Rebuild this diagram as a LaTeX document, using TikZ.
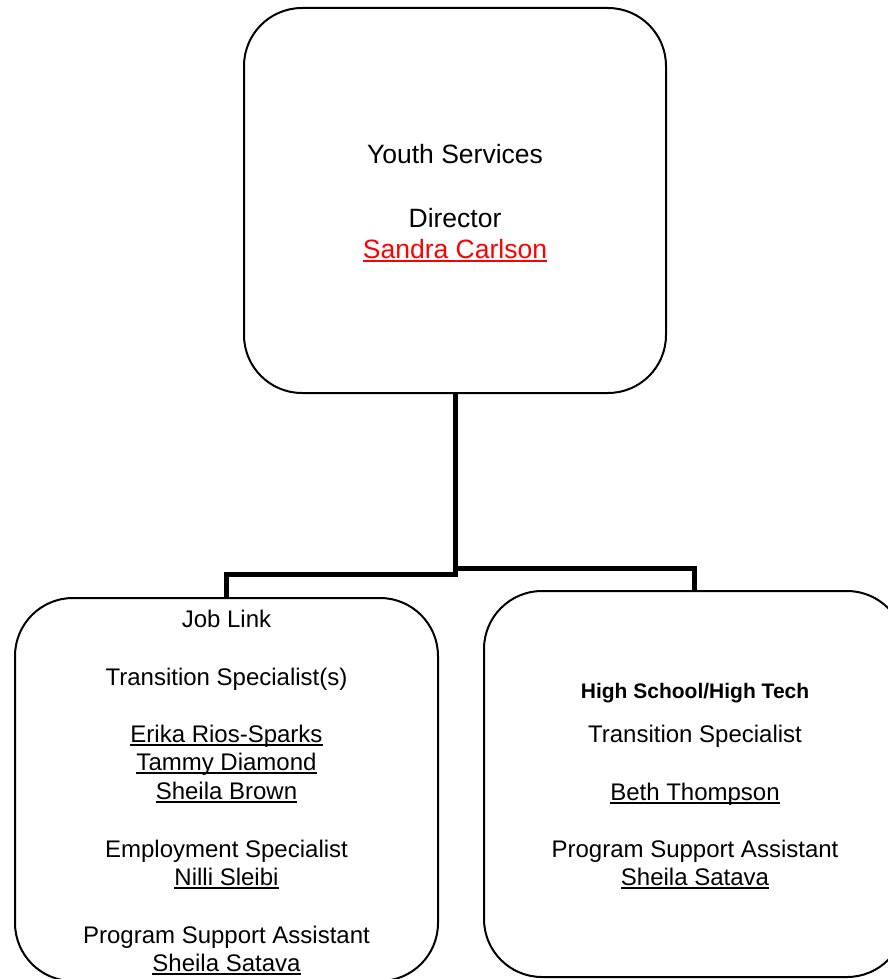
\documentclass[tikz,border=0pt]{standalone}
\usepackage{fontspec}
\setmainfont{Liberation Sans}
\newcommand\myul[1]{\begingroup\setbox0\hbox{#1}\rlap{\vrule width \wd0 height -1.8pt depth 3.5pt}\box0\endgroup}
\begin{document}
\begin{tikzpicture}[x=1pt,y=-1pt,
  box/.style={draw, line width=2pt, rounded corners=58pt, inner sep=0pt, outer sep=0pt},
  conn/.style={draw, line width=5pt, miter limit=10},
  txt/.style={anchor=base, inner sep=0pt, font=\fontsize{24}{28}\selectfont},
  toptxt/.style={anchor=base, inner sep=0pt, font=\fontsize{26.5}{31}\selectfont},
  boldtxt/.style={anchor=base, inner sep=0pt, font=\fontsize{21}{25}\selectfont\bfseries}]
\useasboundingbox (0,0) rectangle (888,979);
\clip (0,0) rectangle (888,979);
% boxes
\node[box, minimum width=422pt, minimum height=385pt] (top) at (455,200.5) {};
\node[box, minimum width=423pt, minimum height=383pt] (left) at (226.5,789.5) {};
\node[box, minimum width=421pt, minimum height=386pt] (right) at (694.5,784) {};
% connectors
\draw[conn] (top.south) -- (top.south |- 0,574.5) -| (left.north);
\draw[conn] (top.south) -- (top.south |- 0,568.5) -| (right.north);
% top box text
\node[toptxt] (t1) at (455,163) {Youth Services};
\node[toptxt] (t2) at (455,227) {Director};
\node[toptxt, text=red] (t3) at (455,258) {\myul{Sandra Carlson}};
% left box text
\node[txt] (l1) at (226.5,627) {Job Link};
\node[txt] (l2) at (226.5,685) {Transition Specialist(s)};
\node[txt] (l3) at (226.5,742) {\myul{Erika Rios-Sparks}};
\node[txt] (l4) at (226.5,770) {\myul{Tammy Diamond}};
\node[txt] (l5) at (226.5,799) {\myul{Sheila Brown}};
\node[txt] (l6) at (226.5,857) {Employment Specialist};
\node[txt] (l7) at (226.5,885) {\myul{Nilli Sleibi}};
\node[txt] (l8) at (226.5,943) {Program Support Assistant};
\node[txt] (l9) at (226.5,971) {\myul{Sheila Satava}};
% right box text
\node[boldtxt] (r1) at (695,698) {High School/High Tech};
\node[txt] (r2) at (695,742) {Transition Specialist};
\node[txt] (r3) at (695,800) {\myul{Beth Thompson}};
\node[txt] (r4) at (695,857) {Program Support Assistant};
\node[txt] (r5) at (695,885) {\myul{Sheila Satava}};
\end{tikzpicture}
\end{document}
